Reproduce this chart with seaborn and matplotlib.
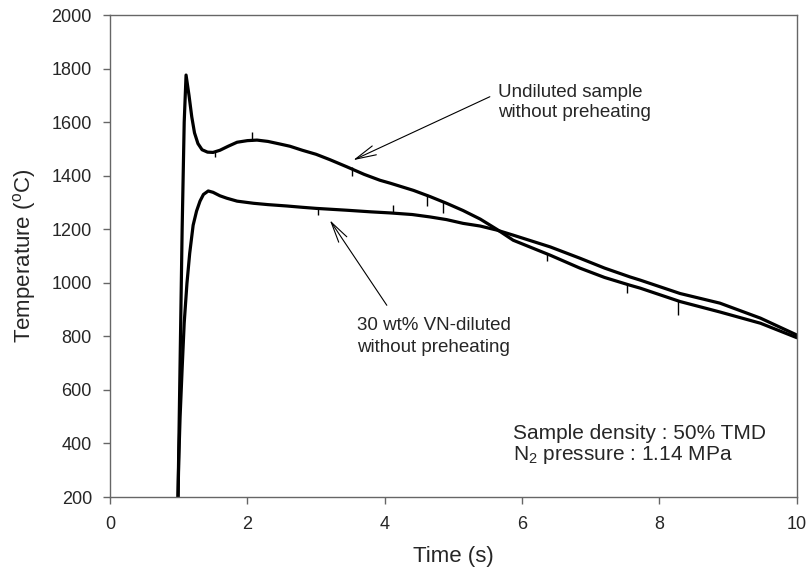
import numpy as np
import matplotlib
matplotlib.use('Agg')
import matplotlib.pyplot as plt
import seaborn as sns

# undiluted sample (time s, temperature C)
t_undiluted = [0.99, 1.02, 1.05, 1.08, 1.107, 1.15, 1.19, 1.23, 1.28, 1.34, 1.42, 1.50,
               1.60, 1.72, 1.85, 2.00, 2.14, 2.30, 2.48, 2.62, 2.80, 3.00, 3.20, 3.45,
               3.70, 3.93, 4.08, 4.42, 4.66, 4.90, 5.14, 5.39, 5.63, 5.87, 6.41, 6.84,
               7.20, 7.57, 7.72, 8.30, 8.88, 9.47, 10.0]
T_undiluted = [200, 700, 1200, 1600, 1776, 1700, 1620, 1560, 1520, 1497, 1488, 1487,
               1495, 1510, 1525, 1531, 1533, 1528, 1518, 1510, 1495, 1480, 1460, 1433,
               1405, 1383, 1372, 1345, 1322, 1297, 1270, 1238, 1200, 1159, 1103, 1055,
               1020, 991, 980, 930, 891, 849, 795]

# 30 wt% VN-diluted sample
t_diluted = [0.99, 1.00, 1.02, 1.05, 1.08, 1.12, 1.16, 1.21, 1.26, 1.31, 1.36, 1.43,
             1.50, 1.60, 1.70, 1.85, 2.09, 2.30, 2.57, 2.80, 3.00, 3.45, 3.80, 4.08,
             4.40, 4.66, 4.90, 5.14, 5.39, 5.63, 5.87, 6.41, 6.84, 7.20, 7.57, 7.72,
             8.30, 8.88, 9.47, 10.0]
T_diluted = [200, 330, 498, 680, 850, 998, 1110, 1215, 1268, 1305, 1330, 1343,
             1338, 1325, 1316, 1305, 1297, 1292, 1287, 1282, 1278, 1271, 1265, 1261,
             1255, 1246, 1236, 1222, 1212, 1197, 1178, 1134, 1092, 1055, 1022, 1010,
             960, 924, 868, 805]

# noise spikes seen on the traces
spike_t = [1.53, 2.06, 3.52, 4.62, 4.85, 3.03, 4.12, 6.36, 7.52, 8.27]
spike_lo = [1468, 1530, 1400, 1285, 1262, 1253, 1262, 1080, 962, 880]
spike_hi = [1490, 1562, 1432, 1330, 1300, 1278, 1292, 1108, 995, 935]

x_ticks = [0, 2, 4, 6, 8, 10]
y_ticks = [200, 400, 600, 800, 1000, 1200, 1400, 1600, 1800, 2000]

sns.set_style('ticks')
plt.rcParams['font.family'] = ['Liberation Sans', 'DejaVu Sans']
plt.rcParams['mathtext.fontset'] = 'custom'
plt.rcParams['mathtext.rm'] = 'Liberation Sans'

fig = plt.figure(figsize=(8.09, 5.79), dpi=100)
ax = fig.add_axes([0.136, 0.1416, 0.849, 0.8324])

sns.lineplot(x=t_undiluted, y=T_undiluted, color='black', lw=2.3, estimator=None, sort=False, ax=ax)
sns.lineplot(x=t_diluted, y=T_diluted, color='black', lw=2.3, estimator=None, sort=False, ax=ax)
ax.vlines(spike_t, spike_lo, spike_hi, color='black', lw=1.0)

ax.set_xlim(0, 10)
ax.set_ylim(200, 2000)
ax.set_xticks(x_ticks)
ax.set_yticks(y_ticks)
for s in ax.spines.values():
    s.set_visible(True)
    s.set_color('#666666')
    s.set_linewidth(1.0)
ax.tick_params(direction='out', length=5, width=1, color='#666666', labelsize=13)
ax.tick_params(axis='x', pad=9)
ax.tick_params(axis='y', pad=8)

ax.set_xlabel('Time (s)', fontsize=16, labelpad=9)
ax.set_ylabel(r'Temperature ($\mathregular{^oC}$)', fontsize=16, labelpad=10)

arrow = dict(arrowstyle='->,head_length=1.5,head_width=0.35', lw=0.8, color='black',
             shrinkA=0, shrinkB=0)
ax.annotate('', xy=(3.54, 1458), xytext=(5.53, 1695), arrowprops=arrow)
ax.annotate('', xy=(3.20, 1234), xytext=(4.03, 916), arrowprops=arrow)

ax.text(5.65, 1710, 'Undiluted sample', fontsize=13.5, va='center', ha='left')
ax.text(5.65, 1637, 'without preheating', fontsize=13.5, va='center', ha='left')
ax.text(3.6, 842, '30 wt% VN-diluted', fontsize=13.5, va='center', ha='left')
ax.text(3.6, 759, 'without preheating', fontsize=13.5, va='center', ha='left')

ax.text(5.87, 438, 'Sample density : 50% TMD', fontsize=15, va='center', ha='left')
ax.text(5.87, 356, r'N$\mathregular{_2}$ pressure : 1.14 MPa', fontsize=15, va='center', ha='left')

fig.savefig('out.png', dpi=100)
